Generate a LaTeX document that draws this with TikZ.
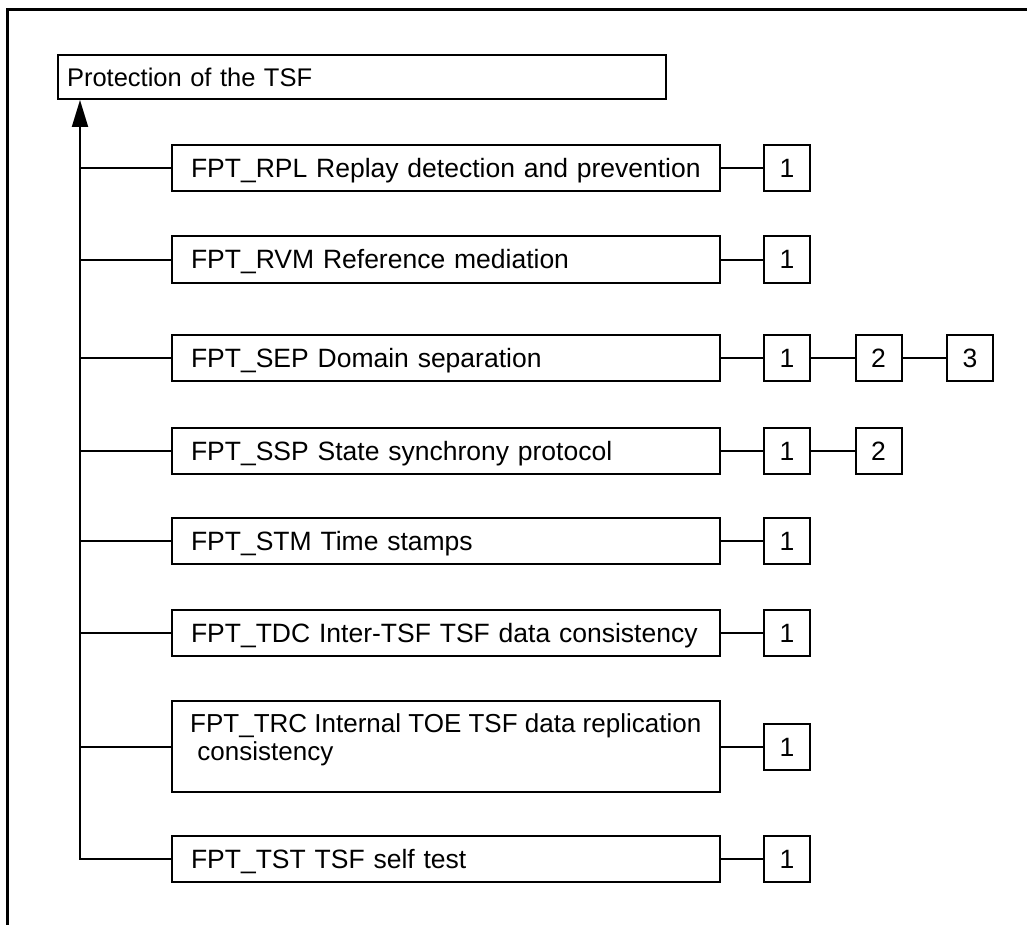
\documentclass[tikz,border=0pt]{standalone}
\usepackage{fontspec}
\setmainfont{Liberation Sans}
\usetikzlibrary{arrows.meta}
\tikzset{
  mainbox/.style={draw, line width=2pt, rectangle, anchor=west, minimum height=46pt,
    inner xsep=19pt, inner ysep=0pt, text width=510pt, align=left,
    text height=19.5pt, text depth=0.5pt},
  numbox/.style={draw, line width=2pt, rectangle, minimum width=46pt, minimum height=46pt,
    inner sep=0pt, text height=19pt, text depth=0pt},
  topbox/.style={draw, line width=2pt, rectangle, anchor=west, minimum height=44pt,
    inner xsep=9pt, inner ysep=0pt, text width=590pt, align=left,
    text height=19pt, text depth=0.5pt, font=\fontsize{25.5}{28}\selectfont},
  plaintext/.style={inner sep=0pt, anchor=north west, align=left},
  conn/.style={line width=2pt},
  frame/.style={line width=2.7pt}
}
\begin{document}
\begin{tikzpicture}[x=1pt, y=-1pt, font=\fontsize{26.5}{28}\selectfont]
\useasboundingbox (0,0) rectangle (1027,925);
\draw[frame] (7.3,925) -- (7.3,9.6) -- (1027,9.6);

\node[topbox] (top) at (57,77.5) {Protection of the TSF};
\coordinate (trunktop) at (80,100);

\node[mainbox] (rpl) at (171,168.5) {FPT\_RPL Replay detection and prevention};
\node[mainbox] (rvm) at (171,259.5) {FPT\_RVM Reference mediation};
\node[mainbox] (sep) at (171,358) {FPT\_SEP Domain separation};
\node[mainbox] (ssp) at (171,450.5) {FPT\_SSP State synchrony protocol};
\node[mainbox] (stm) at (171,541) {FPT\_STM Time stamps};
\node[mainbox] (tdc) at (171,633) {FPT\_TDC Inter-TSF TSF data consistency};
\node[draw, line width=2pt, rectangle, anchor=west, minimum width=548pt, minimum height=91pt,
  inner sep=0pt] (trc) at (171,746.5) {};
\node[plaintext, font=\fontsize{26}{28}\selectfont] (trctext) at (190,713.5) {FPT\_TRC Internal TOE TSF data replication\\\ consistency};
\node[mainbox] (tst) at (171,858.5) {FPT\_TST TSF self test};

\node[numbox] (rpl1) at (787,168.5) {1};
\node[numbox] (rvm1) at (787,259.5) {1};
\node[numbox] (sep1) at (787,358) {1};
\node[numbox] (sep2) at (878.5,358) {2};
\node[numbox] (sep3) at (970,358) {3};
\node[numbox] (ssp1) at (787,450.5) {1};
\node[numbox] (ssp2) at (878.5,450.5) {2};
\node[numbox] (stm1) at (787,541) {1};
\node[numbox] (tdc1) at (787,633) {1};
\node[numbox] (trc1) at (787,746.5) {1};
\node[numbox] (tst1) at (787,858.5) {1};

% trunk with arrow
\draw[conn, -{Triangle[length=27pt, width=16pt]}] (tst.west) -| (trunktop);
\foreach \n in {rpl,rvm,sep,ssp,stm,tdc,trc}
  \draw[conn] (trunktop |- \n.west) -- (\n.west);

\foreach \a/\b in {rpl/rpl1, rvm/rvm1, sep/sep1, sep1/sep2, sep2/sep3, ssp/ssp1, ssp1/ssp2, stm/stm1, tdc/tdc1, trc/trc1, tst/tst1}
  \draw[conn] (\a.east) -- (\b.west);
\end{tikzpicture}
\end{document}
